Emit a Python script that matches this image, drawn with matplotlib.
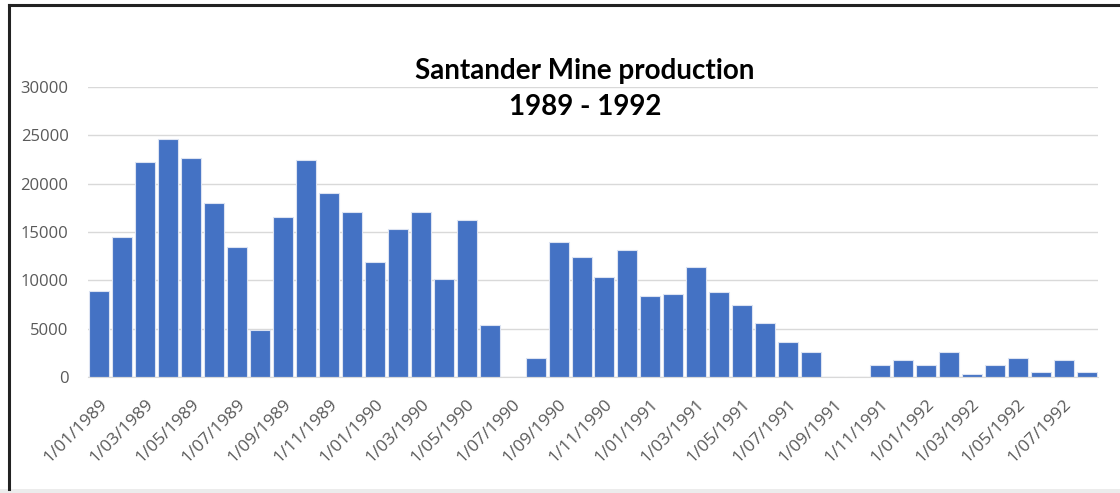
import matplotlib
matplotlib.use("Agg")
import matplotlib.pyplot as plt
from matplotlib.lines import Line2D
from matplotlib.patches import Rectangle

# monthly production, Jan 1989 .. Aug 1992
months = []
for year in range(1989, 1993):
    for m in range(1, 13):
        months.append(f"1/{m:02d}/{year}")
months = months[:44]

production = [
    8900, 14500, 22200, 24600, 22700, 18000, 13450, 4900,
    16600, 22500, 19050, 17100, 11900, 15350, 17100, 10100,
    16250, 5400, 0, 1950, 13950, 12400, 10300, 13100,
    8350, 8550, 11350, 8750, 7500, 5550, 3650, 2600,
    0, 0, 1200, 1750, 1200, 2600, 350, 1200,
    1950, 500, 1750, 500,
]

yticks = [0, 5000, 10000, 15000, 20000, 25000, 30000]

fig = plt.figure(figsize=(11.2, 4.93), dpi=100)
ax = fig.add_axes([88 / 1120, 1 - 377 / 493, (1098 - 88) / 1120, 290 / 493])

x = list(range(len(production)))
ax.bar(x, production, width=0.87, color="#4472C4", edgecolor="#dce3f2",
       linewidth=0.8, zorder=3)

ax.set_xlim(-0.5, len(production) - 0.5)
ax.set_ylim(0, 30000)
ax.set_yticks(yticks)
ax.set_yticklabels([str(v) for v in yticks], fontsize=12, color="#595959",
                   family="Open Sans")
ax.yaxis.grid(True, color="#d9d9d9", linewidth=1, zorder=0)
ax.tick_params(axis="y", length=0, pad=14)

ax.set_xticks(x[::2])
ax.set_xticklabels(months[::2], rotation=45, ha="right", va="top",
                   rotation_mode="anchor", fontsize=12.5, color="#595959",
                   family="Open Sans")
ax.tick_params(axis="x", length=0, pad=14)

for side in ["top", "right", "left"]:
    ax.spines[side].set_visible(False)
ax.spines["bottom"].set_color("#d9d9d9")
ax.spines["bottom"].set_zorder(4)

fig.text(585 / 1120, 1 - 71 / 493, "Santander Mine production", ha="center",
         va="center", fontsize=20, fontweight="bold", family="Lato")
fig.text(585 / 1120, 1 - 107 / 493, "1989 - 1992", ha="center", va="center",
         fontsize=20, fontweight="bold", family="Lato")

# screenshot frame
fig.add_artist(Line2D([9 / 1120, 9 / 1120], [1 - 489 / 493, 1 - 5 / 493],
                      transform=fig.transFigure, color="#222222", linewidth=2.2))
fig.add_artist(Line2D([9 / 1120, 1], [1 - 5 / 493, 1 - 5 / 493],
                      transform=fig.transFigure, color="#222222", linewidth=2.2))
fig.add_artist(Rectangle((0, 0), 1, 4 / 493, transform=fig.transFigure,
                         color="#ececec", linewidth=0))

fig.savefig("out.png", dpi=100, facecolor="white")
